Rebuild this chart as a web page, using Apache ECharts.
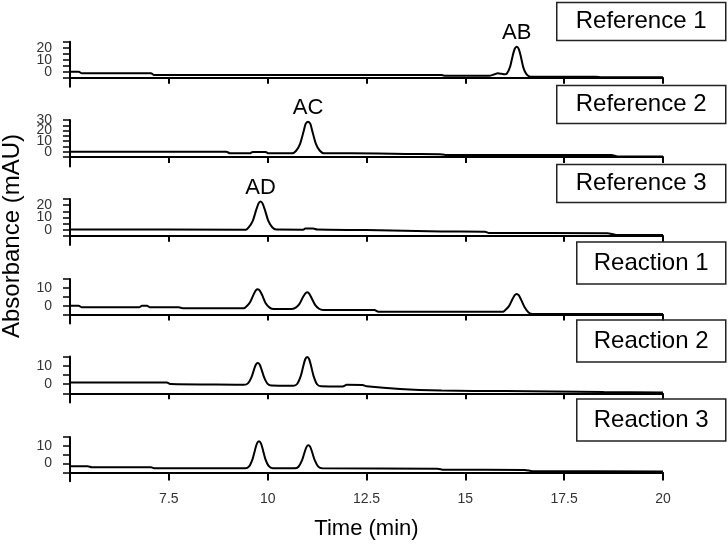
<!DOCTYPE html>
<html><head><meta charset="utf-8">
<script src="https://cdn.jsdelivr.net/npm/echarts@6/dist/echarts.min.js"></script>
<style>html,body{margin:0;padding:0;background:#fff}#c{width:728px;height:545px}</style>
</head><body><div id="c"></div>
<script>
// ---- data: [time (min), absorbance (mAU)] ----
const ref1 = [[5,0],[5.22,0],[5.3,-1.3],[7.05,-1.3],[7.12,-2.7],[14.4,-2.8],[14.5,-3.4],[15.6,-3.4],[15.72,-2.4],[15.82,-1.3],[15.92,-1.8],[16.0,-2.2],[16.05,-1.6],[16.13,3.9],[16.2,13.6],[16.25,19.1],[16.3,20.8],[16.35,19.0],[16.4,13.2],[16.47,3.2],[16.55,-2.3],[16.65,-4.2],[18.3,-4.3],[18.45,-4.7],[20,-4.7]];
const ref2 = [[5,0],[8.95,0],[9.05,-1.5],[9.55,-1.5],[9.62,-0.2],[9.95,-0.2],[10.02,-1.5],[10.62,-1.5],[10.72,0.9],[10.82,7.5],[10.91,19.4],[10.96,26.3],[11.02,28.4],[11.08,26.3],[11.13,19.4],[11.22,7.5],[11.32,0.9],[11.42,-1.4],[12.8,-1.6],[13.5,-2.2],[14.35,-2.4],[14.5,-3.1],[18.7,-3.2],[18.85,-4.5],[20,-4.6]];
const ref3 = [[5,0.2],[9.45,0],[9.52,1.8],[9.62,6.9],[9.71,16.1],[9.77,21.4],[9.82,23],[9.87,21.4],[9.93,16.1],[10.02,6.9],[10.12,1.8],[10.22,0.1],[10.9,0],[10.95,0.9],[11.15,0.9],[11.25,0.1],[12.5,-0.3],[14.4,-1.4],[15.5,-1.6],[15.6,-2.7],[18.6,-2.9],[18.8,-4.2],[20,-4.3]];
const rxn1 = [[5,0],[5.22,0],[5.3,-0.9],[6.75,-0.9],[6.82,0],[6.95,0],[7.02,-0.9],[7.75,-0.9],[7.85,-1.4],[9.4,-1.5],[9.45,-0.7],[9.55,1.8],[9.64,6.1],[9.7,8.6],[9.75,9.2],[9.8,8.5],[9.86,6.0],[9.95,1.4],[10.05,-1.1],[10.15,-1.9],[10.6,-1.9],[10.7,-1.2],[10.8,0.9],[10.89,4.7],[10.95,6.8],[11.0,7.5],[11.05,6.8],[11.11,4.3],[11.2,0.5],[11.3,-1.7],[11.4,-2.4],[12.7,-2.4],[12.8,-3.4],[15.95,-3.4],[16.0,-2.7],[16.1,-0.4],[16.19,3.6],[16.25,5.9],[16.3,6.6],[16.35,5.9],[16.41,3.4],[16.5,-0.9],[16.6,-3.8],[16.7,-4.6],[20,-4.7]];
const rxn2 = [[5,0.9],[7.45,0.9],[7.55,0],[9.2,-0.3],[9.4,-0.4],[9.5,0.4],[9.59,3.7],[9.65,7.6],[9.7,10.5],[9.75,11.4],[9.8,10.5],[9.85,7.6],[9.91,3.7],[10.0,0.1],[10.1,-0.8],[10.6,-0.9],[10.65,-0.9],[10.75,0.2],[10.84,4.6],[10.9,9.7],[10.95,13.5],[11.0,14.7],[11.05,13.5],[11.1,9.7],[11.16,4.5],[11.25,-0.1],[11.35,-1.2],[11.9,-1.3],[12.0,-0.4],[12.4,-0.5],[12.5,-1.2],[13.35,-2.7],[14.4,-3.5],[16,-3.8],[18.5,-4.3],[20,-4.5]];
const rxn3 = [[5,-1.5],[5.45,-1.5],[5.55,-2.1],[7.05,-2.1],[7.15,-2.7],[9.43,-2.7],[9.53,-1.6],[9.62,2.7],[9.68,7.7],[9.73,11.4],[9.78,12.6],[9.83,11.4],[9.88,7.7],[9.94,2.7],[10.03,-1.5],[10.13,-2.6],[10.68,-2.7],[10.78,-1.8],[10.87,1.9],[10.93,6.1],[10.98,9.3],[11.03,10.3],[11.08,9.3],[11.13,6.1],[11.19,1.9],[11.28,-1.7],[11.38,-2.7],[14.3,-2.9],[14.45,-3.5],[16.5,-3.6],[16.7,-4.3],[20,-4.4]];

const panelNames = ['Reference 1','Reference 2','Reference 3','Reaction 1','Reaction 2','Reaction 3'];
const yMin = [-12.5,-14,-12.5,-10,-10,-10];
const yMax = [25,30,25,15,15,15];
const yLabelVals = [[0,10,20],[0,10,20,30],[0,10,20],[0,10],[0,10],[0,10]];
const xTicks = [5,7.5,10,12.5,15,17.5,20];
const xTickLabels = [7.5,10,12.5,15,17.5,20];
const peakNames = ['AB','AC','AD'];
const peakTimes = [16.3,11.02,9.82];
const peakValues = [20.8,28.4,23];
const peakPanels = [0,1,2];

// ---- layout ----
const FONT = '"Liberation Sans", Arial, sans-serif';
const gridTop = [41.7,120,199,279,356.5,437];
const gridBottom = [86.7,166.5,245,323.5,402.5,481.3];
const boxTop = [2,85,164,242,320,399];
const allData = [ref1,ref2,ref3,rxn1,rxn2,rxn3];

const labelStyle = {margin:18, fontSize:14, color:'#333', fontFamily:FONT, hideOverlap:false, showMinLabel:true, showMaxLabel:true};
const grids=[], xAxes=[], yAxes=[], series=[], titles=[];
for (let i=0;i<6;i++){
  const h = gridBottom[i]-gridTop[i];
  grids.push({left:70, width:593, top:gridTop[i], height:h});
  const off = -((-5 - yMin[i])/(yMax[i]-yMin[i]))*h;
  const last = i===5;
  xAxes.push({type:'value', gridIndex:i, min:5, max:20, interval:2.5, offset:off,
    axisLine:{show:true, onZero:false, lineStyle:{color:'#000', width:2}},
    axisTick:{show:true, customValues:xTicks, length:last?8:6, lineStyle:{color:'#000', width:2}},
    axisLabel:{show:last, customValues:xTickLabels, margin:20, fontSize:14, color:'#333', fontFamily:FONT, hideOverlap:false},
    splitLine:{show:false},
    name:last?'Time (min)':'', nameLocation:'middle', nameGap:45,
    nameTextStyle:{fontSize:22, color:'#000', fontFamily:FONT}});
  const ticks=[]; for (let v=-5; v<=yMax[i]; v+=5) ticks.push(v);
  const labA = yLabelVals[i].filter((v,k)=>k%2===0);
  const labB = yLabelVals[i].filter((v,k)=>k%2===1);
  const primary = yAxes.length;
  yAxes.push({type:'value', gridIndex:i, min:yMin[i], max:yMax[i],
    axisLine:{show:true, onZero:false, lineStyle:{color:'#000', width:2}},
    axisTick:{show:true, customValues:ticks, length:7, lineStyle:{color:'#000', width:1.5}},
    axisLabel:Object.assign({customValues:labA}, labelStyle),
    splitLine:{show:false}});
  yAxes.push({type:'value', gridIndex:i, min:yMin[i], max:yMax[i], position:'left',
    axisLine:{show:false}, axisTick:{show:false},
    axisLabel:Object.assign({customValues:labB}, labelStyle),
    splitLine:{show:false}});
  const s = {type:'line', xAxisIndex:i, yAxisIndex:primary, data:allData[i], showSymbol:false, smooth:0.25,
    lineStyle:{color:'#000', width:2}, animation:false};
  const pk = peakPanels.indexOf(i);
  if (pk>=0){
    s.markPoint = {symbol:'circle', symbolSize:1, itemStyle:{color:'rgba(0,0,0,0)'}, animation:false,
      label:{show:true, position:'top', distance:2, formatter:peakNames[pk], fontSize:22, color:'#000', fontFamily:FONT},
      data:[{coord:[peakTimes[pk], peakValues[pk]]}]};
  }
  series.push(s);
  const isRef = i<3;
  titles.push({text:panelNames[i], right:2, top:boxTop[i], padding:isRef?[7.5,19.5]:[9,17.5],
    borderColor:'#222', borderWidth:1.5,
    textStyle:{fontSize:24, fontWeight:'normal', color:'#000', fontFamily:FONT, lineHeight:24}});
}

const chart = echarts.init(document.getElementById('c'), null, {renderer:'canvas'});
chart.setOption({
  animation:false,
  backgroundColor:'#fff',
  title:titles, grid:grids, xAxis:xAxes, yAxis:yAxes, series:series,
  graphic:[{type:'text', x:12, y:236, rotation:Math.PI/2,
    style:{text:'Absorbance (mAU)', font:'24px "Liberation Sans", Arial, sans-serif', fill:'#000',
      align:'center', verticalAlign:'middle', textAlign:'center', textVerticalAlign:'middle'}}]
});
</script></body></html>
